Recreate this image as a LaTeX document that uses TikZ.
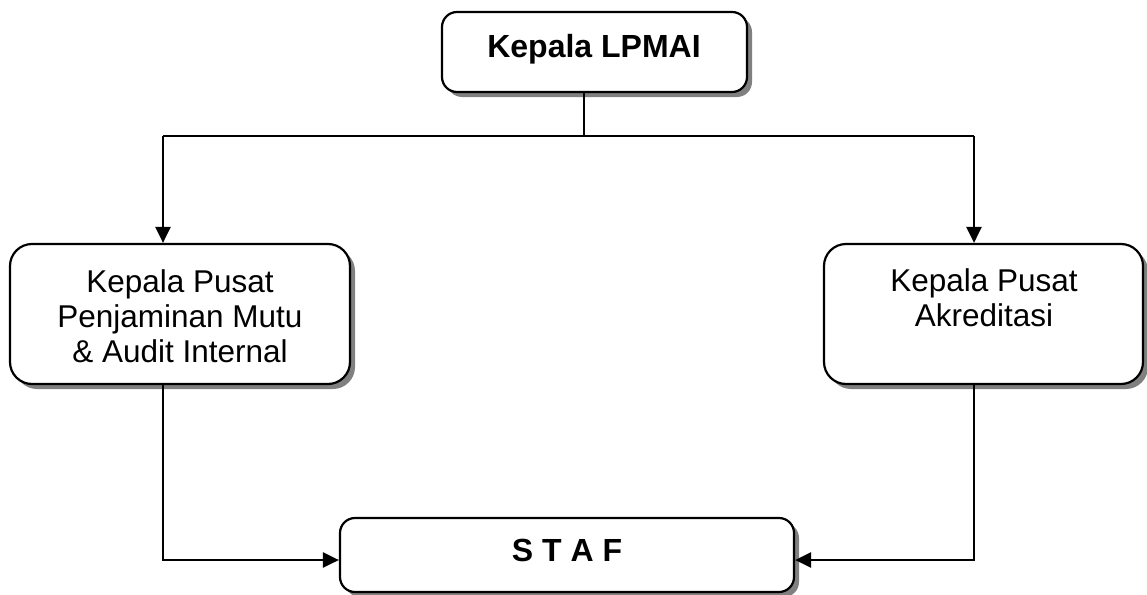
\documentclass[tikz,border=0pt]{standalone}
\usepackage{fontspec}
\setmainfont{Liberation Sans}
\usetikzlibrary{arrows.meta,shadows}
\begin{document}
\begin{tikzpicture}[x=1pt,y=-1pt,
  box/.style={draw,line width=2.2pt,fill=white,rounded corners=#1,inner sep=0pt,
    drop shadow={shadow xshift=5pt,shadow yshift=-5pt,fill=black!50,opacity=1}},
  box/.default=15pt,
  txt/.style={font=\fontsize{31.5}{35}\selectfont,align=center,inner sep=0pt},
  conn/.style={line width=2.4pt},
  arr/.style={line width=2.4pt,-{Triangle[length=16pt,width=15pt]}}
]
\fill[white] (0,0) rectangle (1147,594);
\useasboundingbox (0,0) rectangle (1147,594);

\node[box=15pt,minimum width=305pt,minimum height=80pt] (top) at (594.5,52) {};
\node[txt,font=\fontsize{32}{35}\selectfont\bfseries,anchor=base] (toptxt) at (594,57) {Kepala LPMAI};

\node[box=22pt,minimum width=340pt,minimum height=140pt] (left) at (180,314) {};
\node[txt] (lefttxt) at (180,316) {Kepala Pusat\\Penjaminan Mutu\\\& Audit Internal};

\node[box=22pt,minimum width=319pt,minimum height=140pt] (right) at (983.5,314) {};
\node[txt] (righttxt) at (984,298) {Kepala Pusat\\Akreditasi};

\node[box=15pt,minimum width=454pt,minimum height=74pt] (staf) at (567,555) {};
\node[txt,font=\fontsize{32}{35}\selectfont\bfseries,anchor=base] (staftxt) at (567,561) {S T A F};

\coordinate (j) at (584,136);
\coordinate (lj) at (163,136);
\coordinate (rj) at (974,136);
\coordinate (ld) at (163,560);
\coordinate (rd) at (974,560);

\draw[conn] (j |- top.south) -- (j);
\draw[conn] (lj) -- (rj);
\draw[arr] (lj) -- (lj |- left.north);
\draw[arr] (rj) -- (rj |- right.north);
\draw[arr] (ld |- left.south) -- (ld) -- (ld -| staf.west);
\draw[arr] (rd |- right.south) -- (rd) -- (rd -| staf.east);
\end{tikzpicture}
\end{document}
